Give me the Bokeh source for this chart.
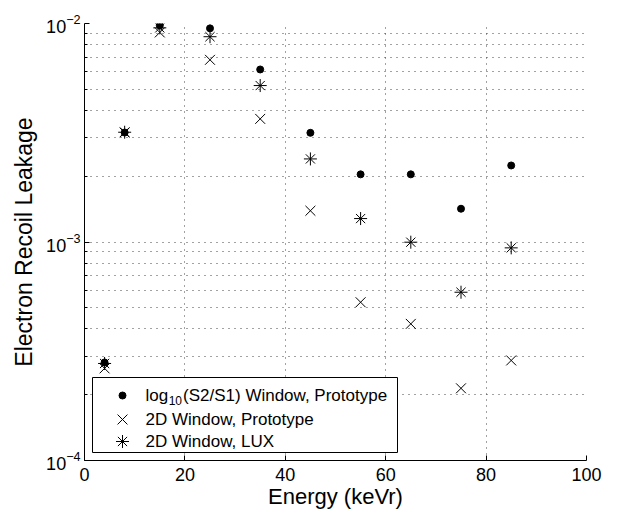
from bokeh.plotting import figure
from bokeh.models import FixedTicker, LogTickFormatter, Range1d, LinearScale
from bokeh.core.properties import value
from bokeh.embed import file_html
from bokeh.resources import INLINE

energy = [4, 8, 15, 25, 35, 45, 55, 65, 75, 85]
leak_s2s1_proto = [2.81e-4, 3.17e-3, 9.8e-3, 9.5e-3, 6.16e-3, 3.16e-3, 2.04e-3, 2.04e-3, 1.42e-3, 2.24e-3]
leak_2d_proto = [2.64e-4, 3.17e-3, 9.1e-3, 6.82e-3, 3.66e-3, 1.39e-3, 5.30e-4, 4.22e-4, 2.14e-4, 2.87e-4]
leak_2d_lux = [2.78e-4, 3.18e-3, 9.55e-3, 8.7e-3, 5.2e-3, 2.40e-3, 1.28e-3, 9.98e-4, 5.89e-4, 9.40e-4]

label_log = "log"
label_sub = "10"
label_rest = "(S2/S1) Window, Prototype"
label_2d_proto = "2D Window, Prototype"
label_2d_lux = "2D Window, LUX"

x_ticks = [0, 20, 40, 60, 80, 100]
y_ticks = [1e-4, 1e-3, 1e-2]
y_minor = [m * 10.0 ** e for e in (-4, -3) for m in range(2, 10)]

FONT = "Liberation Sans"
FRAME_W, FRAME_H = 502, 437

p = figure(width=625, height=513, x_range=(0, 100), y_range=(1e-4, 1e-2),
           y_axis_type="log", output_backend="svg", toolbar_location=None,
           min_border_left=84, min_border_right=39, min_border_top=23, min_border_bottom=53)
p.outline_line_color = None
p.background_fill_color = "white"
p.border_fill_color = "white"

p.xaxis.ticker = FixedTicker(ticks=x_ticks)
p.yaxis.ticker = FixedTicker(ticks=y_ticks, minor_ticks=y_minor)
p.yaxis.formatter = LogTickFormatter()

for ax in (p.xaxis[0], p.yaxis[0]):
    ax.axis_line_color = "black"
    ax.major_tick_in = 5
    ax.major_tick_out = 0
    ax.minor_tick_in = 3
    ax.minor_tick_out = 0
    ax.major_label_text_font = FONT
    ax.major_label_text_font_size = "18px"
    ax.major_label_text_color = "black"
    ax.axis_label_text_font = FONT
    ax.axis_label_text_font_style = "normal"
    ax.axis_label_text_color = "black"

p.xaxis.axis_label = "Energy (keVr)"
p.xaxis.axis_label_text_font_size = "22px"
p.xaxis.major_label_standoff = 7
p.xaxis.axis_label_standoff = 0
p.yaxis.axis_label = "Electron Recoil Leakage"
p.yaxis.axis_label_text_font_size = "23px"
p.yaxis.major_label_standoff = 4
p.yaxis.axis_label_standoff = 6

for g in (p.xgrid, p.ygrid):
    g.grid_line_color = "#444444"
    g.grid_line_dash = "1 5"
p.ygrid.minor_grid_line_color = "#444444"
p.ygrid.minor_grid_line_dash = "1 5"

# legend drawn in frame pixel coordinates (layout only)
p.extra_x_ranges = {"px": Range1d(0, FRAME_W)}
p.extra_y_ranges = {"py": Range1d(0, FRAME_H)}
p.extra_x_scales = {"px": LinearScale()}
p.extra_y_scales = {"py": LinearScale()}
LEG_L, LEG_R, LEG_B, LEG_T = 8, 313, 8, 83
LEG_GLYPH_X = 38
LEG_TEXT_X = 61
LEG_ROWS = [65, 41, 19]
LEG_FS = 17
SUB_FS = 12

p.quad(left=[LEG_L], right=[LEG_R], bottom=[LEG_B], top=[LEG_T], x_range_name="px", y_range_name="py",
       fill_color="white", line_color="black", line_width=1, level="overlay")

DOT = dict(marker="circle", size=7, color="black")
CROSS = dict(marker="x", size=14, line_color="black", line_width=1)
STAR = dict(marker="asterisk", size=13, line_color="black", line_width=1)

p.scatter(energy, leak_s2s1_proto, **DOT)
p.scatter(energy, leak_2d_proto, **CROSS)
p.scatter(energy, leak_2d_lux, **STAR)

for style, ry in zip((DOT, CROSS, STAR), LEG_ROWS):
    p.scatter([LEG_GLYPH_X], [ry], x_range_name="px", y_range_name="py", level="overlay", **style)

txt = dict(x_range_name="px", y_range_name="py", text_font=value(FONT), text_color="black",
           text_align="left", text_baseline="middle", level="overlay")
w_log = (0.222 + 0.556 + 0.556) * LEG_FS
w_sub = 2 * 0.556 * SUB_FS
p.text([LEG_TEXT_X], [LEG_ROWS[0]], text=[label_log], text_font_size=f"{LEG_FS}px", **txt)
p.text([LEG_TEXT_X + w_log + 0.5], [LEG_ROWS[0] - 5], text=[label_sub], text_font_size=f"{SUB_FS}px", **txt)
p.text([LEG_TEXT_X + w_log + w_sub + 1.5], [LEG_ROWS[0]], text=[label_rest], text_font_size=f"{LEG_FS}px", **txt)
p.text([LEG_TEXT_X], [LEG_ROWS[1]], text=[label_2d_proto], text_font_size=f"{LEG_FS}px", **txt)
p.text([LEG_TEXT_X], [LEG_ROWS[2]], text=[label_2d_lux], text_font_size=f"{LEG_FS}px", **txt)

open("out.html", "w").write(file_html(p, INLINE))
